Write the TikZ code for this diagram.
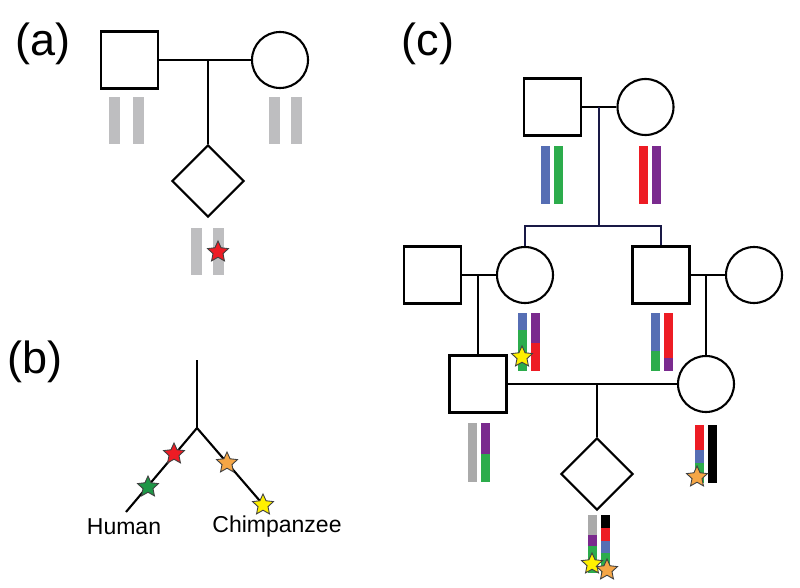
\documentclass[tikz,border=0pt]{standalone}
\usepackage{fontspec}
\setmainfont{Liberation Sans}
\usetikzlibrary{shapes.geometric}
\definecolor{cblue}{RGB}{86,110,180}
\definecolor{cgreen}{RGB}{44,172,76}
\definecolor{cred}{RGB}{237,28,36}
\definecolor{cpurple}{RGB}{122,42,142}
\definecolor{cgrayc}{RGB}{170,170,170}
\definecolor{cgraya}{RGB}{190,190,192}
\definecolor{cblack}{RGB}{0,0,0}
\definecolor{sorange}{RGB}{245,166,70}
\definecolor{syellow}{RGB}{255,240,0}
\definecolor{sgreen}{RGB}{30,150,70}
\definecolor{sred}{RGB}{237,28,36}
\definecolor{cnavy}{RGB}{25,25,70}
\newcommand{\chromA}[3]{\fill[cgraya] (#1,#2) rectangle ++(11,#3);}
\newcommand{\seg}[4]{\fill[#4] (#1,#2) rectangle (#1+9,#3);}
\begin{document}
\begin{tikzpicture}[x=1pt,y=-1pt,
  male/.style={draw, line width=2.1pt, rectangle, minimum size=57pt, inner sep=0pt},
  female/.style={draw, line width=2.1pt, circle, minimum size=56pt, inner sep=0pt},
  unk/.style={draw, line width=2.1pt, diamond, minimum size=72pt, inner sep=0pt},
  link/.style={line width=2.1pt},
  navylink/.style={line width=2.1pt, draw=cnavy},
  mut/.style={star, star points=5, star point ratio=2.1, minimum size=22pt, inner sep=0pt, draw=black!75, line width=0.9pt},
  panel/.style={font=\fontsize{45}{50}\selectfont},
  lab/.style={font=\fontsize{23}{27}\selectfont}]
\useasboundingbox (0,0) rectangle (800,588);

% ---------- panel (a)
\node[panel] (la) at (43,44) {(a)};
\node[male] (a1) at (129.5,60) {};
\node[female] (a2) at (280,60) {};
\node[unk] (a3) at (208,181) {};
\coordinate (am) at (208,60);
\draw[link] (a1.east) -- (a2.west);
\draw[link] (am) -- (a3.north);
\chromA{109}{97}{47}
\chromA{133}{97}{47}
\chromA{269}{97}{47}
\chromA{291}{97}{47}
\chromA{191}{228}{47}
\chromA{213}{228}{47}
\node[mut, fill=sred] (as) at (218,252) {};

% ---------- panel (b)
\node[panel] (lb) at (35,362) {(b)};
\coordinate (bt) at (197,360);
\coordinate (bf) at (197,428);
\coordinate (bh) at (126,512);
\coordinate (bc) at (266,508);
\draw[link] (bt) -- (bf);
\draw[link] (bf) -- (bh);
\draw[link] (bf) -- (bc);
\node[mut, fill=sred] (s1) at (174,454) {};
\node[mut, fill=sgreen] (s2) at (148,487) {};
\node[mut, fill=sorange] (s3) at (227,463) {};
\node[mut, fill=syellow] (s4) at (263,505) {};
\node[lab] (hum) at (124,527) {Human};
\node[lab] (chi) at (277,527) {Chimpanzee};

% ---------- panel (c)
\node[panel] (lc) at (428,44) {(c)};
% generation I
\node[male] (g1m) at (552.5,107) {};
\node[female] (g1f) at (645.5,107) {};
\coordinate (g1c) at (599,107);
\coordinate (sib) at (599,226);
\draw[link] (g1m.east) -- (g1f.west);
% generation II
\node[male] (g2a) at (432.5,275) {};
\node[female] (g2b) at (525,275) {};
\node[male] (g2c) at (661,275) {};
\node[female] (g2d) at (754,275) {};
\draw[navylink] (g1c) -- (sib);
\draw[navylink] (g2b.north) |- (sib) -| (g2c.north);
\draw[link] (g2a.east) -- (g2b.west);
\draw[link] (g2c.east) -- (g2d.west);
\coordinate (g2l) at (478,275);
\coordinate (g2r) at (706,275);
% generation III
\node[male] (g3a) at (478,384) {};
\node[female] (g3b) at (706,384) {};
\draw[link] (g2l) -- (g3a.north);
\draw[link] (g2r) -- (g3b.north);
\draw[link] (g3a.east) -- (g3b.west);
\coordinate (g3c) at (597,384);
% generation IV
\node[unk] (g4) at (597,474) {};
\draw[link] (g3c) -- (g4.north);

% chromosomes, generation I
\seg{541}{146}{204}{cblue}
\seg{554}{146}{204}{cgreen}
\seg{639}{146}{204}{cred}
\seg{652}{146}{204}{cpurple}
% generation II daughter
\seg{518}{313}{330}{cblue}
\seg{518}{330}{371}{cgreen}
\seg{531}{313}{343}{cpurple}
\seg{531}{343}{371}{cred}
\node[mut, fill=syellow] (m1) at (522,357) {};
% generation II son
\seg{651}{313}{351}{cblue}
\seg{651}{351}{371}{cgreen}
\seg{664}{313}{358}{cred}
\seg{664}{358}{371}{cpurple}
% generation III male
\seg{468}{423}{482}{cgrayc}
\seg{481}{423}{454}{cpurple}
\seg{481}{454}{482}{cgreen}
% generation III female
\seg{695}{425}{450}{cred}
\seg{695}{450}{463}{cblue}
\seg{695}{463}{483}{cgreen}
\seg{708}{425}{483}{cblack}
\node[mut, fill=sorange] (m2) at (697,477) {};
% generation IV
\seg{588}{515}{535}{cgrayc}
\seg{588}{535}{546}{cpurple}
\seg{588}{546}{573}{cgreen}
\seg{601}{515}{528}{cblack}
\seg{601}{528}{541}{cred}
\seg{601}{541}{553}{cblue}
\seg{601}{553}{573}{cgreen}
\node[mut, fill=syellow] (m3) at (592,564) {};
\node[mut, fill=sorange] (m4) at (607,570) {};
\end{tikzpicture}
\end{document}
